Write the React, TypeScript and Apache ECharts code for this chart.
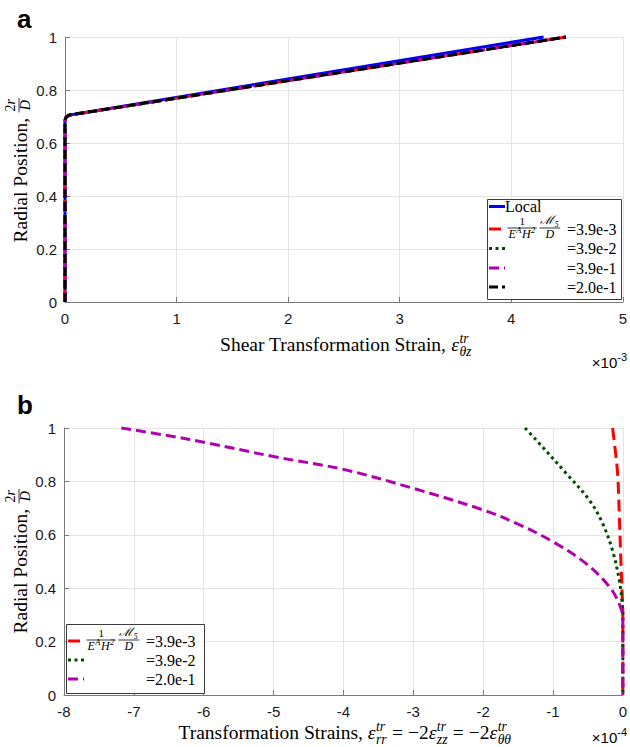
import React, { useEffect, useRef } from "react";
import * as echarts from "echarts";

// ---------- Data ----------
// Panel a: shear transformation strain (x 1e-3) vs radial position
const shearLocalX = [0, 0, 0.012, 0.044, 4.29];
const shearLocalY = [0, 0.686, 0.699, 0.706, 1.0];
const shearRedX = [0, 0, 0.012, 0.044, 4.49];
const shearRedY = [0, 0.686, 0.699, 0.706, 1.0];
const shearGreenX = [0, 0, 0.012, 0.044, 4.49];
const shearGreenY = [0, 0.686, 0.699, 0.706, 1.0];
const shearMagentaX = [0, 0, 0.012, 0.044, 4.49];
const shearMagentaY = [0, 0.686, 0.699, 0.706, 1.0];
const shearBlackX = [0, 0, 0.012, 0.044, 4.49];
const shearBlackY = [0, 0.686, 0.699, 0.706, 1.0];

// Panel b: transformation strains (x 1e-4) vs radial position
const normRedX = [-0.146, -0.12, -0.075, -0.05, -0.03, -0.01, 0, 0];
const normRedY = [1, 0.943, 0.83, 0.668, 0.518, 0.38, 0.3, 0];
const normGreenX = [-1.4, -1.24, -0.81, -0.48, -0.29, -0.15, -0.05, -0.01, 0, 0];
const normGreenY = [1, 0.955, 0.83, 0.73, 0.643, 0.543, 0.43, 0.345, 0.3, 0];
const normMagentaX = [-7.18, -6.5, -5.98, -5, -4, -3, -2, -1.5, -1, -0.53, -0.19, -0.05, 0, 0];
const normMagentaY = [1, 0.971, 0.946, 0.893, 0.845, 0.774, 0.693, 0.64, 0.574, 0.493, 0.405, 0.34, 0.29, 0];

// Axes
const xMinA = 0, xMaxA = 5, xStepA = 1;
const xMinB = -8, xMaxB = 0, xStepB = 1;
const yMin = 0, yMax = 1, yStep = 0.2;

// Legend texts
const legendLocal = "Local";
const legendValuesA = ["=3.9e-3", "=3.9e-2", "=3.9e-1", "=2.0e-1"];
const legendValuesB = ["=3.9e-3", "=3.9e-2", "=2.0e-1"];

// ---------- Styles ----------
const SERIF = '"Liberation Serif", "Times New Roman", serif';
const SANS = '"Liberation Sans", Arial, sans-serif';
const C_BLUE = "#0000ff";
const C_RED = "#ff0000";
const C_GREEN = "#004d00";
const C_MAG = "#b000b0";
const C_BLACK = "#000000";
const DASH_RED = [12, 6];
const DASH_GREEN = [3, 3.5];
const DASH_MAG = [10, 5];
const DASH_BLACK = [9, 4];
const TITLE_SIZE = 19.5;

const zip = (xs: number[], ys: number[]) => xs.map((x, i) => [x, ys[i]]);

type Tok =
  | { k: "r"; t: string; size: number; italic?: boolean; family?: string }
  | { k: "s"; sup: string; sub: string; size: number; family?: string }
  | { k: "f"; num: Tok[]; den: Tok[]; barOff: number };

function buildGraphics() {
  const els: any[] = [];
  const ctx = document.createElement("canvas").getContext("2d")!;
  const fnt = (size: number, italic = false, family = SERIF, bold = false) =>
    `${italic ? "italic " : ""}${bold ? "bold " : ""}${size}px ${family}`;
  const meas = (t: string, f: string) => {
    ctx.font = f;
    return ctx.measureText(t).width;
  };
  const text = (t: string, x: number, baseline: number, size: number, o: any = {}) => {
    const f = fnt(size, !!o.italic, o.family || SERIF, !!o.bold);
    return {
      type: "text",
      x,
      y: baseline - 0.34 * size,
      z: 100,
      silent: true,
      style: {
        text: t,
        font: f,
        fill: o.fill || "#000",
        align: o.align || "left",
        textAlign: o.align || "left",
        verticalAlign: "middle",
        textVerticalAlign: "middle",
      },
    };
  };
  const tokW = (tk: Tok): number => {
    if (tk.k === "r") return meas(tk.t, fnt(tk.size, !!tk.italic, tk.family || SERIF));
    if (tk.k === "s") {
      const ss = tk.size * 0.7;
      return Math.max(meas(tk.sup, fnt(ss, true, tk.family || SERIF)), meas(tk.sub, fnt(ss, true, tk.family || SERIF))) + 1;
    }
    return Math.max(rowW(tk.num), rowW(tk.den)) + 3;
  };
  const rowW = (tks: Tok[]) => tks.reduce((a, t) => a + tokW(t), 0);
  const emitRow = (tks: Tok[], x0: number, baseline: number, out: any[]) => {
    let x = x0;
    for (const tk of tks) {
      const w = tokW(tk);
      if (tk.k === "r") {
        out.push(text(tk.t, x, baseline, tk.size, { italic: tk.italic, family: tk.family }));
      } else if (tk.k === "s") {
        const ss = tk.size * 0.7;
        if (tk.sup) out.push(text(tk.sup, x + 0.5, baseline - 0.42 * tk.size, ss, { italic: tk.family !== SANS, family: tk.family }));
        if (tk.sub) out.push(text(tk.sub, x + 0.5, baseline + 0.28 * tk.size, ss, { italic: true, family: tk.family }));
      } else {
        const barY = baseline - tk.barOff;
        out.push({
          type: "line",
          z: 100,
          silent: true,
          shape: { x1: x + 0.5, y1: barY, x2: x + w - 0.5, y2: barY },
          style: { stroke: "#000", lineWidth: 0.8 },
        });
        const nw = rowW(tk.num);
        const dw = rowW(tk.den);
        const nSize = (tk.num[0] as any).size || 10;
        const dSize = (tk.den[0] as any).size || 10;
        emitRow(tk.num, x + (w - nw) / 2, barY - 2 - 0.15 * nSize, out);
        emitRow(tk.den, x + (w - dw) / 2, barY + 1.5 + 0.7 * dSize, out);
      }
      x += w;
    }
  };

  // Panel labels
  els.push(text("a", 17, 28, 26, { family: SANS, bold: true }));
  els.push(text("b", 17, 414, 26, { family: SANS, bold: true }));

  // Y-axis titles (rotated)
  const yTitle: Tok[] = [
    { k: "r", t: "Radial Position, ", size: TITLE_SIZE },
    {
      k: "f",
      num: [
        { k: "r", t: "2", size: 14 },
        { k: "r", t: "r", size: 14, italic: true },
      ],
      den: [{ k: "r", t: "D", size: 14, italic: true }],
      barOff: 8,
    },
  ];
  const ytw = rowW(yTitle);
  for (const cy of [170, 561]) {
    const children: any[] = [];
    emitRow(yTitle, -ytw / 2, 0, children);
    els.push({ type: "group", x: 27, y: cy, rotation: Math.PI / 2, children });
  }

  // X-axis titles
  const xTitleA: Tok[] = [
    { k: "r", t: "Shear Transformation Strain, ", size: TITLE_SIZE },
    { k: "r", t: "ε", size: TITLE_SIZE, italic: true },
    { k: "s", sup: "tr", sub: "θz", size: TITLE_SIZE },
  ];
  const xTitleB: Tok[] = [
    { k: "r", t: "Transformation Strains, ", size: TITLE_SIZE },
    { k: "r", t: "ε", size: TITLE_SIZE, italic: true },
    { k: "s", sup: "tr", sub: "rr", size: TITLE_SIZE },
    { k: "r", t: " = −2", size: TITLE_SIZE },
    { k: "r", t: "ε", size: TITLE_SIZE, italic: true },
    { k: "s", sup: "tr", sub: "zz", size: TITLE_SIZE },
    { k: "r", t: " = −2", size: TITLE_SIZE },
    { k: "r", t: "ε", size: TITLE_SIZE, italic: true },
    { k: "s", sup: "tr", sub: "θθ", size: TITLE_SIZE },
  ];
  emitRow(xTitleA, 346 - rowW(xTitleA) / 2, 351, els);
  emitRow(xTitleB, 345 - rowW(xTitleB) / 2, 739, els);

  // Exponent labels
  const expo = (base: number, e: string) => {
    const w1 = meas("×10", fnt(15, false, SANS));
    const w2 = meas(e, fnt(11, false, SANS));
    const x0 = 627 - w1 - w2;
    els.push(text("×10", x0, base, 15, { family: SANS }));
    els.push(text(e, x0 + w1, base - 7, 11, { family: SANS }));
  };
  expo(368, "-3");
  expo(743, "-4");

  // Legend fraction
  const frac: Tok[] = [
    {
      k: "f",
      num: [{ k: "r", t: "1", size: 11 }],
      den: [
        { k: "r", t: "E", size: 12, italic: true },
        { k: "s", sup: "A", sub: "", size: 12 },
        { k: "r", t: "H", size: 12, italic: true },
        { k: "s", sup: "2", sub: "", size: 12 },
      ],
      barOff: 0,
    },
    { k: "r", t: " ", size: 6 },
    {
      k: "f",
      num: [
        { k: "r", t: "ℳ", size: 12, italic: true },
        { k: "s", sup: "", sub: "5", size: 11 },
      ],
      den: [{ k: "r", t: "D", size: 12, italic: true }],
      barOff: 0,
    },
  ];

  const legend = (bx: number, by: number, w: number, h: number, rows: any[]) => {
    els.push({
      type: "rect",
      z: 99,
      silent: true,
      shape: { x: bx + 0.5, y: by + 0.5, width: w, height: h },
      style: { fill: "#fff", stroke: "#3c3c3c", lineWidth: 1 },
    });
    for (const r of rows) {
      els.push({
        type: "line",
        z: 100,
        silent: true,
        shape: { x1: bx + 2, y1: r.y, x2: bx + 18, y2: r.y },
        style: { stroke: r.color, lineWidth: 3, lineDash: r.dash || null, lineCap: "butt" },
      });
      if (r.label) els.push(text(r.label, bx + 18, r.y + 0.34 * 16, 16));
      if (r.frac) emitRow(frac, bx + 20, r.y - 1, els);
      if (r.value) els.push(text(r.value, bx + 80, r.y + 0.34 * 16, 16));
    }
  };
  legend(487, 199, 134, 100, [
    { y: 206.5, color: C_BLUE, label: legendLocal },
    { y: 229, color: C_RED, dash: DASH_RED, frac: true, value: legendValuesA[0] },
    { y: 248.5, color: C_GREEN, dash: DASH_GREEN, value: legendValuesA[1] },
    { y: 268, color: C_MAG, dash: DASH_MAG, value: legendValuesA[2] },
    { y: 287, color: C_BLACK, dash: DASH_BLACK, value: legendValuesA[3] },
  ]);
  legend(66, 624, 138, 69, [
    { y: 641, color: C_RED, dash: DASH_RED, frac: true, value: legendValuesB[0] },
    { y: 660, color: C_GREEN, dash: DASH_GREEN, value: legendValuesB[1] },
    { y: 679, color: C_MAG, dash: DASH_MAG, value: legendValuesB[2] },
  ]);
  return els;
}

const axisCommon = {
  type: "value" as const,
  axisLine: { show: true, onZero: false, lineStyle: { color: "#7a7a7a", width: 1 } },
  axisTick: { show: true, inside: true, length: 5, lineStyle: { color: "#7a7a7a" } },
  splitLine: { show: true, showMinLine: true, showMaxLine: true, lineStyle: { color: "#e4e4e4", width: 1 } },
};

const fmtY = (v: number) => String(Math.round(v * 10) / 10);
const fmtX = (v: number) => String(Math.round(v));

export default function App() {
  const ref = useRef<HTMLDivElement>(null);
  useEffect(() => {
    document.body.style.margin = "0";
    const chart = echarts.init(ref.current!, undefined, { renderer: "svg" });
    const line = (xi: number, xs: number[], ys: number[], color: string, dash: any, smooth = false) => ({
      type: "line",
      xAxisIndex: xi,
      yAxisIndex: xi,
      data: zip(xs, ys),
      showSymbol: false,
      symbol: "none",
      smooth: smooth ? 0.35 : false,
      clip: false,
      silent: true,
      lineStyle: { color, width: 3, type: dash, cap: "butt" },
    });
    chart.setOption({
      animation: false,
      backgroundColor: "#ffffff",
      grid: [
        { left: 65, top: 37, width: 562, height: 265 },
        { left: 64, top: 428, width: 563, height: 267 },
      ],
      xAxis: [
        {
          ...axisCommon,
          gridIndex: 0,
          min: xMinA,
          max: xMaxA,
          interval: xStepA,
          axisLabel: { fontSize: 15, color: "#1a1a1a", fontFamily: SANS, margin: 9, formatter: fmtX },
        },
        {
          ...axisCommon,
          gridIndex: 1,
          min: xMinB,
          max: xMaxB,
          interval: xStepB,
          axisLabel: { fontSize: 15, color: "#1a1a1a", fontFamily: SANS, margin: 9, formatter: fmtX },
        },
      ],
      yAxis: [
        {
          ...axisCommon,
          gridIndex: 0,
          min: yMin,
          max: yMax,
          interval: yStep,
          axisLabel: { fontSize: 15, color: "#1a1a1a", fontFamily: SANS, margin: 8, formatter: fmtY },
        },
        {
          ...axisCommon,
          gridIndex: 1,
          min: yMin,
          max: yMax,
          interval: yStep,
          axisLabel: { fontSize: 15, color: "#1a1a1a", fontFamily: SANS, margin: 8, formatter: fmtY },
        },
      ],
      series: [
        line(0, shearLocalX, shearLocalY, C_BLUE, "solid"),
        line(0, shearRedX, shearRedY, C_RED, DASH_RED),
        line(0, shearGreenX, shearGreenY, C_GREEN, DASH_GREEN),
        line(0, shearMagentaX, shearMagentaY, C_MAG, DASH_MAG),
        line(0, shearBlackX, shearBlackY, C_BLACK, DASH_BLACK),
        line(1, normRedX, normRedY, C_RED, DASH_RED, true),
        line(1, normGreenX, normGreenY, C_GREEN, DASH_GREEN, true),
        line(1, normMagentaX, normMagentaY, C_MAG, DASH_MAG, true),
      ],
      graphic: { elements: buildGraphics() },
    });
    return () => chart.dispose();
  }, []);
  return <div ref={ref} style={{ position: "absolute", left: 0, top: 0, width: 630, height: 747 }} />;
}
